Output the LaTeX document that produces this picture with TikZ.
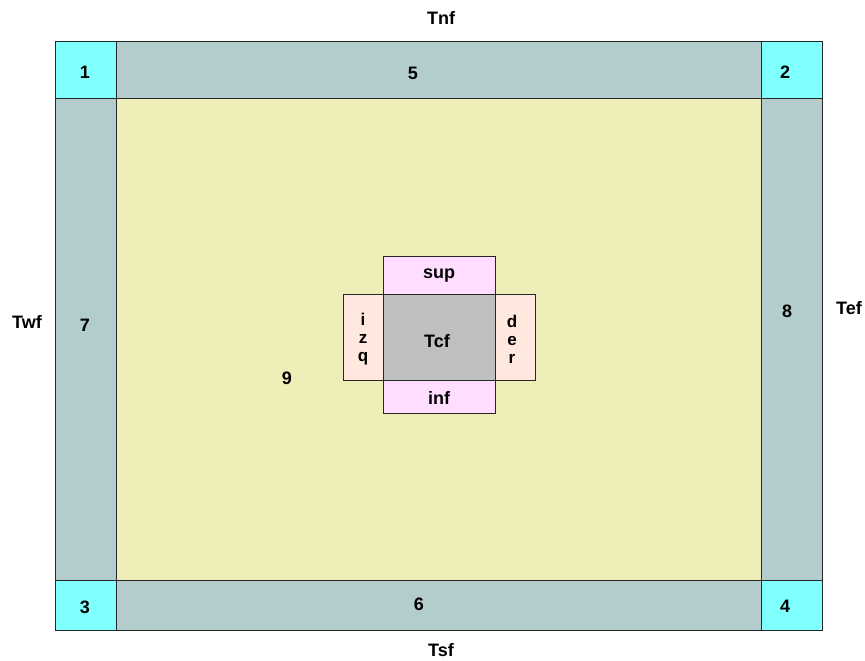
\documentclass[tikz,border=0pt]{standalone}
\usepackage{fontspec}
\setmainfont{Liberation Sans}
\definecolor{cyanc}{HTML}{80FFFF}
\definecolor{bluegray}{HTML}{B3CCCC}
\definecolor{yel}{HTML}{EEEEB8}
\definecolor{pinkc}{HTML}{FFDDFF}
\definecolor{peach}{HTML}{FFE8DD}
\definecolor{grayc}{HTML}{C0C0C0}
\begin{document}
\begin{tikzpicture}[x=1pt,y=-1pt,
  cell/.style={draw=black!85,line width=1pt},
  lbl/.style={font=\fontsize{18}{20}\selectfont\bfseries,inner sep=0pt},
  vlbl/.style={font=\fontsize{17}{18}\selectfont\bfseries,inner sep=0pt,align=center}]
\useasboundingbox (0,0) rectangle (865,661);
% outer cells
\filldraw[cell,fill=yel] (116,98) rectangle (761,580);
\filldraw[cell,fill=bluegray] (116,42) rectangle (761,98);
\filldraw[cell,fill=bluegray] (116,580) rectangle (761,630);
\filldraw[cell,fill=bluegray] (55,98) rectangle (116,580);
\filldraw[cell,fill=bluegray] (761,98) rectangle (822,580);
\filldraw[cell,fill=cyanc] (55,42) rectangle (116,98);
\filldraw[cell,fill=cyanc] (761,42) rectangle (822,98);
\filldraw[cell,fill=cyanc] (55,580) rectangle (116,630);
\filldraw[cell,fill=cyanc] (761,580) rectangle (822,630);
% center
\filldraw[cell,fill=pinkc] (383,256) rectangle (495,294);
\filldraw[cell,fill=pinkc] (383,380) rectangle (495,413);
\filldraw[cell,fill=peach] (343,294) rectangle (383,380);
\filldraw[cell,fill=peach] (495,294) rectangle (535,380);
\filldraw[cell,fill=grayc] (383,294) rectangle (495,380);
% labels
\node[lbl] (n1) at (85,72) {1};
\node[lbl] (n2) at (785,72) {2};
\node[lbl] (n3) at (85,607) {3};
\node[lbl] (n4) at (785,606) {4};
\node[lbl] (n5) at (413,73) {5};
\node[lbl] (n6) at (419,604) {6};
\node[lbl] (n7) at (85,325) {7};
\node[lbl] (n8) at (787,311) {8};
\node[lbl] (n9) at (287,378) {9};
\node[lbl] (tnf) at (441,18) {Tnf};
\node[lbl] (tsf) at (441,650) {Tsf};
\node[lbl] (twf) at (27,322) {Twf};
\node[lbl] (tef) at (849,308) {Tef};
\node[lbl] (sup) at (439,276) {sup};
\node[lbl] (inf) at (439,398) {inf};
\node[lbl] (tcf) at (437,341) {Tcf};
\node[vlbl] (izq) at (363,339) {i\\z\\q};
\node[vlbl] (der) at (512,339) {d\\e\\r};
\end{tikzpicture}
\end{document}
